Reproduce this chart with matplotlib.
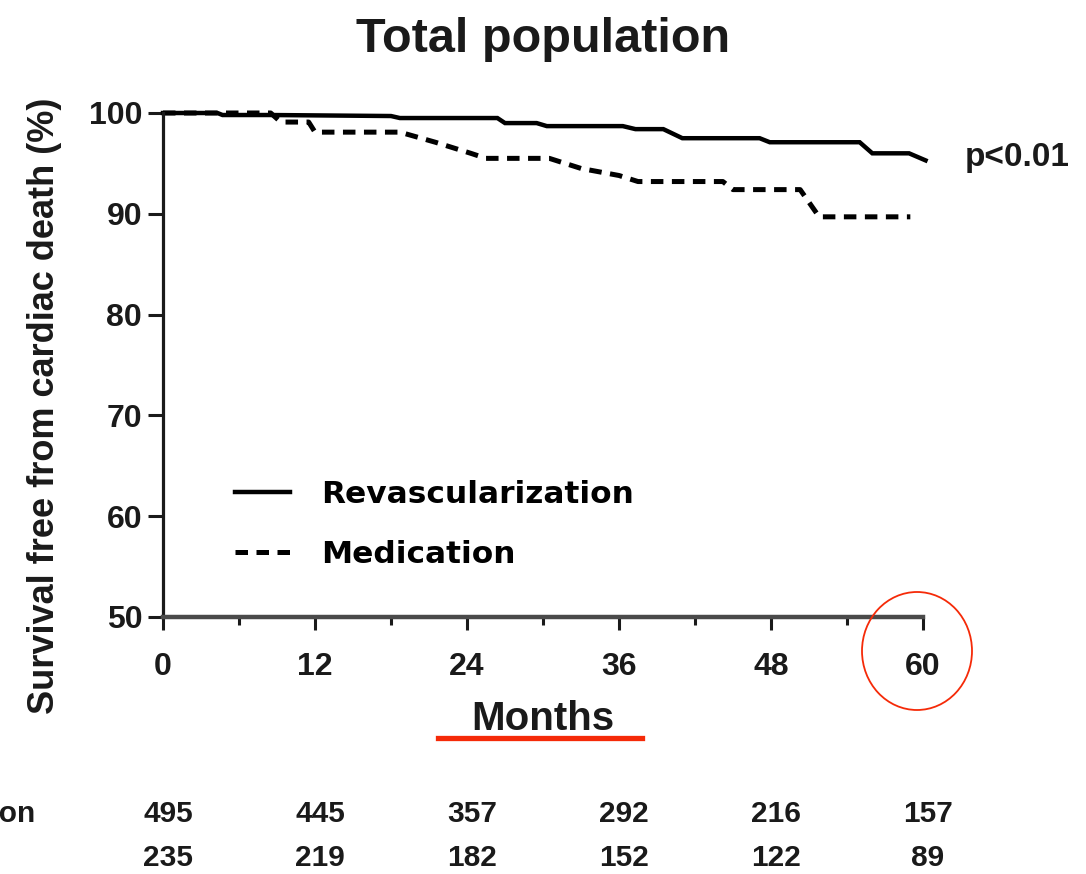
import matplotlib
matplotlib.use("Agg")
import matplotlib.pyplot as plt
import matplotlib.transforms as mtransforms
from matplotlib.patches import Ellipse
from matplotlib.lines import Line2D

# -----------------------------
# Data
# -----------------------------
revasc_months = [0, 4.3, 4.7, 8.5, 18.0, 18.7, 26.4, 27.0, 29.5, 30.3,
                 36.3, 37.3, 39.5, 41.0, 47.1, 47.9, 55.0, 56.0, 58.9, 60.2]
revasc_surv = [100, 100, 99.8, 99.8, 99.7, 99.5, 99.5, 99.0, 99.0, 98.7,
               98.7, 98.4, 98.4, 97.5, 97.5, 97.1, 97.1, 96.0, 96.0, 95.3]

med_months = [0, 8.5, 9.3, 11.5, 12.0, 18.7, 21.5, 24.3, 25.5, 30.5,
              33.0, 36.0, 37.5, 44.2, 45.0, 50.3, 51.8, 59.0]
med_surv = [100, 100, 99.1, 99.1, 98.1, 98.1, 97.1, 96.0, 95.5, 95.5,
            94.5, 93.8, 93.2, 93.2, 92.4, 92.4, 89.7, 89.7]

x_ticks = [0, 12, 24, 36, 48, 60]
y_ticks = [50, 60, 70, 80, 90, 100]

risk_months = [0, 12, 24, 36, 48, 60]
risk_revasc = [495, 445, 357, 292, 216, 157]
risk_med = [235, 219, 182, 152, 122, 89]

W, H = 1086, 874
BOLD = ["Liberation Sans", "DejaVu Sans"]
INK = "#1a1a1a"
RED = "#f52a08"

fig = plt.figure(figsize=(W / 100, H / 100), dpi=100)
ax = fig.add_axes([163 / W, 1 - 617 / H, 760 / W, 504 / H])

ax.plot(revasc_months, revasc_surv, color="black", lw=3.2,
        solid_joinstyle="miter", clip_on=False)
ax.plot(med_months, med_surv, color="black", lw=3.6,
        linestyle=(0, (2.5, 1.7)), clip_on=False)

ax.set_xlim(0, 60)
ax.set_ylim(50, 100)
ax.set_xticks(x_ticks)
ax.set_xticks([6, 18, 30, 42, 54], minor=True)
ax.set_yticks(y_ticks)

for s in ["top", "right"]:
    ax.spines[s].set_visible(False)
ax.spines["left"].set_linewidth(2.3)
ax.spines["left"].set_color(INK)
ax.spines["bottom"].set_linewidth(3.2)
ax.spines["bottom"].set_color("#4a4a4a")

ax.tick_params(axis="x", which="major", direction="out", length=9, width=2.2,
               pad=16, colors=INK)
ax.tick_params(axis="x", which="minor", direction="out", length=6, width=2.2,
               colors=INK)
ax.tick_params(axis="y", direction="out", length=11, width=2.2, pad=4,
               colors=INK)
for lab in ax.get_xticklabels() + ax.get_yticklabels():
    lab.set_fontfamily(BOLD)
    lab.set_fontweight("bold")
    lab.set_fontsize(23)

ax.set_ylabel("Survival free from cardiac death (%)", family=BOLD,
              fontweight="bold", fontsize=26, color=INK)
ax.yaxis.set_label_coords(-0.133, 0.419)

# legend
handles = [Line2D([], [], color="black", lw=3.2),
           Line2D([], [], color="black", lw=3.6, linestyle=(0, (2.5, 1.7)))]
ax.legend(handles, ["Revascularization", "Medication"],
          loc="upper left", bbox_to_anchor=(235 / W, 1 - 480 / H),
          bbox_transform=fig.transFigure, frameon=False, borderpad=0,
          borderaxespad=0, handlelength=1.75, handletextpad=1.0,
          labelspacing=1.0,
          prop={"family": "DejaVu Sans", "weight": "bold", "size": 22.5})

# titles and annotations
fig.text(0.5, 1 - 52 / H, "Total population", ha="center", va="baseline",
         family=BOLD, fontweight="bold", fontsize=35, color=INK)
fig.text(543 / W, 1 - 730 / H, "Months", ha="center", va="baseline",
         family=BOLD, fontweight="bold", fontsize=29, color=INK)
fig.text(965 / W, 1 - 166 / H, "p<0.01", ha="left", va="baseline",
         family=BOLD, fontweight="bold", fontsize=24, color=INK)

fig.add_artist(Line2D([438 / W, 642 / W], [1 - 738 / H, 1 - 738 / H],
                      transform=fig.transFigure, color=RED, lw=3.8))
fig.add_artist(Ellipse((917 / W, 1 - 651 / H), 110 / W, 118 / H,
                       transform=fig.transFigure, fill=False,
                       edgecolor=RED, lw=1.3))

# number at risk table
shift = mtransforms.ScaledTranslation(5 / 100, 0, fig.dpi_scale_trans)
trans = mtransforms.blended_transform_factory(ax.transData, fig.transFigure) + shift
for m, a, b in zip(risk_months, risk_revasc, risk_med):
    fig.text(m, 1 - 822 / H, str(a), transform=trans, ha="center",
             va="baseline", family=BOLD, fontweight="bold", fontsize=21.5,
             color=INK)
    fig.text(m, 1 - 866 / H, str(b), transform=trans, ha="center",
             va="baseline", family=BOLD, fontweight="bold", fontsize=21.5,
             color=INK)
# row label is cropped by the left edge in the source slide
fig.text(35 / W, 1 - 822 / H, "Revascularization", ha="right", va="baseline",
         family=BOLD, fontweight="bold", fontsize=21.5, color=INK)

fig.savefig("out.png", dpi=100, facecolor="white")
